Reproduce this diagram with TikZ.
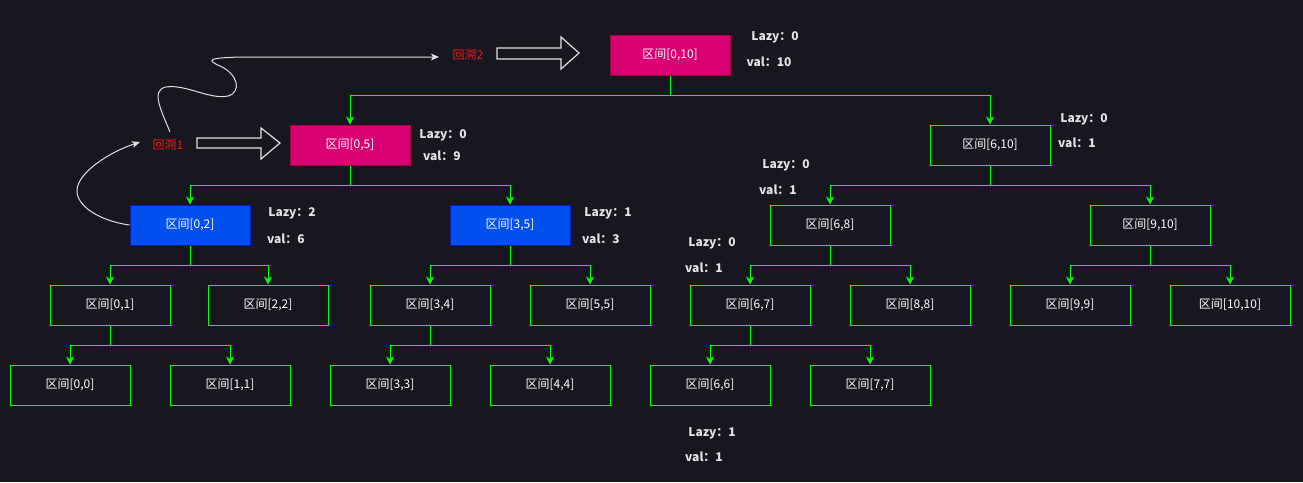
\documentclass[tikz,border=0pt]{standalone}
\usepackage{fontspec}
\setmainfont{Noto Sans CJK SC}
\usetikzlibrary{arrows.meta}
\usepackage{xcolor}
\definecolor{bg}{RGB}{24,22,31}
\definecolor{lime}{RGB}{0,255,0}
\definecolor{pinkfill}{HTML}{D80073}
\definecolor{pinkline}{HTML}{A50040}
\definecolor{bluefill}{HTML}{0050EF}
\definecolor{blueline}{HTML}{001DBC}
\definecolor{infogray}{HTML}{E4E4E4}
\definecolor{tracered}{HTML}{F01414}

\tikzset{
  seg/.style={draw=lime, line width=0.75pt, fill=bg, minimum width=90pt, minimum height=30pt,
    inner sep=0pt, text=white, font=\fontsize{9}{11}\selectfont},
  hotseg/.style={seg, fill=pinkfill, draw=pinkline},
  lazyseg/.style={seg, fill=bluefill, draw=blueline},
  info/.style={inner sep=0pt, text=infogray, font=\fontsize{9}{11}\selectfont\bfseries},
  tracetext/.style={inner sep=0pt, text=tracered, font=\fontsize{9}{11}\selectfont},
  edge/.style={draw=lime, line width=0.75pt, -{Stealth[length=6pt,width=6pt,inset=2pt]}},
  swirl/.style={draw=white!88!black, line width=0.75pt, -{Stealth[length=6pt,width=5pt,inset=1.5pt]}},
  hollow/.style={draw=white!88!black, line width=0.9pt, line join=miter}
}

\begin{document}
\begin{tikzpicture}[x=0.75pt,y=-0.75pt]
        % background
        \fill[bg] (0,0) rectangle (1303,482);
        \useasboundingbox (0,0) rectangle (1303,482);
        % segment nodes
        \node[hotseg] (n010) at (670,55) {区间[0,10]};
        \node[hotseg] (n05) at (350,145) {区间[0,5]};
        \node[seg] (n610) at (990,145) {区间[6,10]};
        \node[lazyseg] (n02) at (190,225) {区间[0,2]};
        \node[lazyseg] (n35) at (510,225) {区间[3,5]};
        \node[seg] (n68) at (830,225) {区间[6,8]};
        \node[seg] (n910) at (1150,225) {区间[9,10]};
        \node[seg] (n01) at (110,305) {区间[0,1]};
        \node[seg] (n22) at (268,305) {区间[2,2]};
        \node[seg] (n34) at (430,305) {区间[3,4]};
        \node[seg] (n55) at (590,305) {区间[5,5]};
        \node[seg] (n67) at (750,305) {区间[6,7]};
        \node[seg] (n88) at (910,305) {区间[8,8]};
        \node[seg] (n99) at (1070,305) {区间[9,9]};
        \node[seg] (n1010) at (1230,305) {区间[10,10]};
        \node[seg] (n00) at (70,385) {区间[0,0]};
        \node[seg] (n11) at (230,385) {区间[1,1]};
        \node[seg] (n33) at (390,385) {区间[3,3]};
        \node[seg] (n44) at (550,385) {区间[4,4]};
        \node[seg] (n66) at (710,385) {区间[6,6]};
        \node[seg] (n77) at (870,385) {区间[7,7]};
        % tree edges
        \foreach \p/\c in {n010/n05, n010/n610, n05/n02, n05/n35, n610/n68, n610/n910,
            n02/n01, n02/n22, n35/n34, n35/n55, n68/n67, n68/n88, n910/n99, n910/n1010,
            n01/n00, n01/n11, n34/n33, n34/n44, n67/n66, n67/n77}
            \draw[edge] (\p.south) -- ++(0,20) -| (\c.north);
        % lazy and val labels
        \node[info] (lz010) at (775,37) {Lazy：0};
        \node[info] (vl010) at (769,62) {val：10};
        \node[info] (lz05) at (443,135) {Lazy：0};
        \node[info] (vl05) at (442,156) {val：9};
        \node[info] (lz610) at (1084,119) {Lazy：0};
        \node[info] (vl610) at (1077,143) {val：1};
        \node[info] (lz02) at (292,213) {Lazy：2};
        \node[info] (vl02) at (286,239) {val：6};
        \node[info] (lz35) at (608,213) {Lazy：1};
        \node[info] (vl35) at (601,239) {val：3};
        \node[info] (lz68) at (786,165) {Lazy：0};
        \node[info] (vl68) at (778,190) {val：1};
        \node[info] (lz67) at (712,243) {Lazy：0};
        \node[info] (vl67) at (704,268) {val：1};
        \node[info] (lz66) at (712,433) {Lazy：1};
        \node[info] (vl66) at (704,457) {val：1};
        % backtracking marks
        \node[tracetext] (hs1) at (168,145) {回溯1};
        \node[tracetext] (hs2) at (468,55) {回溯2};
        \coordinate (hs1in) at (140,142);
        \coordinate (hs1out) at (170,132);
        \coordinate (hs2in) at (439,57);
        \draw[hollow] (197,138) -- (261,138) -- (261,128) -- (280,143) -- (261,159) -- (261,148) -- (197,148) -- cycle;
        \draw[hollow] (497,48) -- (561,48) -- (561,37) -- (579,53) -- (561,69) -- (561,59) -- (497,59) -- cycle;
        \draw[swirl] (n02.west) .. controls (100,221) and (76,206) .. (77,190)
            .. controls (78,172) and (110,152) .. (hs1in);
        \draw[swirl] (hs1out) .. controls (162,112) and (150,90) .. (166,87)
            .. controls (186,84) and (210,100) .. (228,96)
            .. controls (242,92) and (238,74) .. (220,66)
            .. controls (204,59) and (212,58) .. (240,57) -- (hs2in);
    \end{tikzpicture}
\end{document}
